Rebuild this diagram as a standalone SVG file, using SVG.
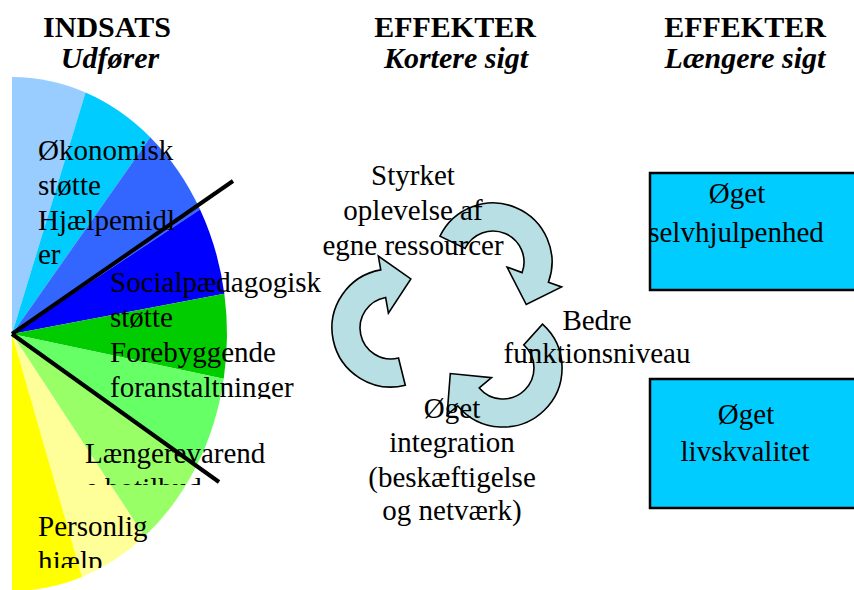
<svg xmlns="http://www.w3.org/2000/svg" width="854" height="590" viewBox="0 0 854 590">
<defs>
<style>
.t{font-family:"Liberation Serif","Times New Roman",serif;font-size:29px;fill:#000}
.c{text-anchor:middle}
.h{font-family:"Liberation Serif","Times New Roman",serif;font-size:30px;font-weight:bold;fill:#000;text-anchor:middle}
.hi{font-style:italic}
.arr{fill:#B8DFE3;stroke:#000;stroke-width:1.6;stroke-linejoin:miter}
.box{fill:#00CCFF;stroke:#000;stroke-width:2.5}
.sep{stroke:#000;stroke-width:4;stroke-linecap:butt}
</style>
<clipPath id="clipSoc"><rect x="100" y="260" width="240" height="139"/></clipPath>
<clipPath id="clipLang"><rect x="80" y="430" width="200" height="55"/></clipPath>
<clipPath id="clipPers"><rect x="30" y="505" width="140" height="63"/></clipPath>
</defs>
<rect width="854" height="590" fill="#fff"/>

<g id="headers">
<text class="h" x="107" y="37">INDSATS</text>
<text class="h hi" x="110" y="68">Udfører</text>
<text class="h" x="455" y="37">EFFEKTER</text>
<text class="h hi" x="456" y="68">Kortere sigt</text>
<text class="h" x="745" y="37">EFFEKTER</text>
<text class="h hi" x="745" y="68">Længere sigt</text>
</g>

<g id="pie">
<path fill="#99CCFF" d="M12,334 L12,77 A215,257 0 0 1 85.53,92.5 Z"/>
<path fill="#00CCFF" d="M12,334 L85.53,92.5 A215,257 0 0 1 150.2,137.13 Z"/>
<path fill="#3366FF" d="M12,334 L150.2,137.13 A215,257 0 0 1 200.04,209.41 Z"/>
<path fill="#0000FF" d="M12,334 L200.04,209.41 A215,257 0 0 1 224.35,293.8 Z"/>
<path fill="#00CC00" d="M12,334 L224.35,293.8 A215,257 0 0 1 223.73,378.63 Z"/>
<path fill="#66FF66" d="M12,334 L223.73,378.63 A215,257 0 0 1 196.3,466.36 Z"/>
<path fill="#99FF66" d="M12,334 L196.3,466.36 A215,257 0 0 1 144.37,536.52 Z"/>
<path fill="#FFFF99" d="M12,334 L144.37,536.52 A215,257 0 0 1 82,576.99 Z"/>
<path fill="#FFFF00" d="M12,334 L82,576.99 A215,257 0 0 1 12,591 Z"/>
<line class="sep" x1="12" y1="334" x2="233" y2="181"/>
<line class="sep" x1="12" y1="334" x2="219" y2="482"/>
</g>

<g id="label-okonomisk">
<text class="t" x="38" y="160">Økonomisk</text>
<text class="t" x="38" y="195">støtte</text>
<text class="t" x="38" y="230">Hjælpemidl</text>
<text class="t" x="38" y="264">er</text>
</g>
<g id="label-social" clip-path="url(#clipSoc)">
<text class="t" x="110" y="292">Socialpædagogisk</text>
<text class="t" x="110" y="327">støtte</text>
<text class="t" x="110" y="362">Forebyggende</text>
<text class="t" x="110" y="397">foranstaltninger</text>
</g>
<g id="label-laengere" clip-path="url(#clipLang)">
<text class="t" x="85" y="463">Længerevarend</text>
<text class="t" x="85" y="498">e botilbud</text>
</g>
<g id="label-personlig" clip-path="url(#clipPers)">
<text class="t" x="38" y="536">Personlig</text>
<text class="t" x="38" y="571">hjælp</text>
</g>

<g id="connectors">
<path class="arr" d="M439.97,236.13 A59,59 0 0 1 548.44,282.18 L561.6,286.97 L526.25,304.55 L507.1,267.13 L522.13,272.6 A31,31 0 0 0 465.14,248.41 Z"/>
<path class="arr" d="M542.48,324.16 A59,59 0 1 1 457.81,405.92 L447.08,414.92 L450.29,373.54 L491.51,377.64 L479.25,387.93 A31,31 0 1 0 523.74,344.96 Z"/>
<path class="arr" d="M405.27,385.25 A59,59 0 1 1 380.76,269.9 L378.32,256.11 L410.85,278.86 L388.4,313.23 L385.62,297.47 A31,31 0 1 0 398.5,358.08 Z"/>
</g>

<g id="node-styrket">
<text class="t c" x="413" y="185">Styrket</text>
<text class="t c" x="413" y="220">oplevelse af</text>
<text class="t c" x="413" y="255">egne ressourcer</text>
</g>
<g id="node-bedre">
<text class="t c" x="597" y="330">Bedre</text>
<text class="t c" x="597" y="363">funktionsniveau</text>
</g>
<g id="node-integration">
<text class="t c" x="452" y="418">Øget</text>
<text class="t c" x="452" y="452">integration</text>
<text class="t c" x="452" y="487">(beskæftigelse</text>
<text class="t c" x="452" y="520">og netværk)</text>
</g>

<g id="node-selvhjulpenhed">
<rect class="box" x="650" y="173" width="220" height="117"/>
<text class="t c" x="737" y="203">Øget</text>
<text class="t c" x="736" y="242">selvhjulpenhed</text>
</g>
<g id="node-livskvalitet">
<rect class="box" x="650" y="379" width="220" height="129"/>
<text class="t c" x="746" y="424">Øget</text>
<text class="t c" x="745" y="461">livskvalitet</text>
</g>
</svg>
